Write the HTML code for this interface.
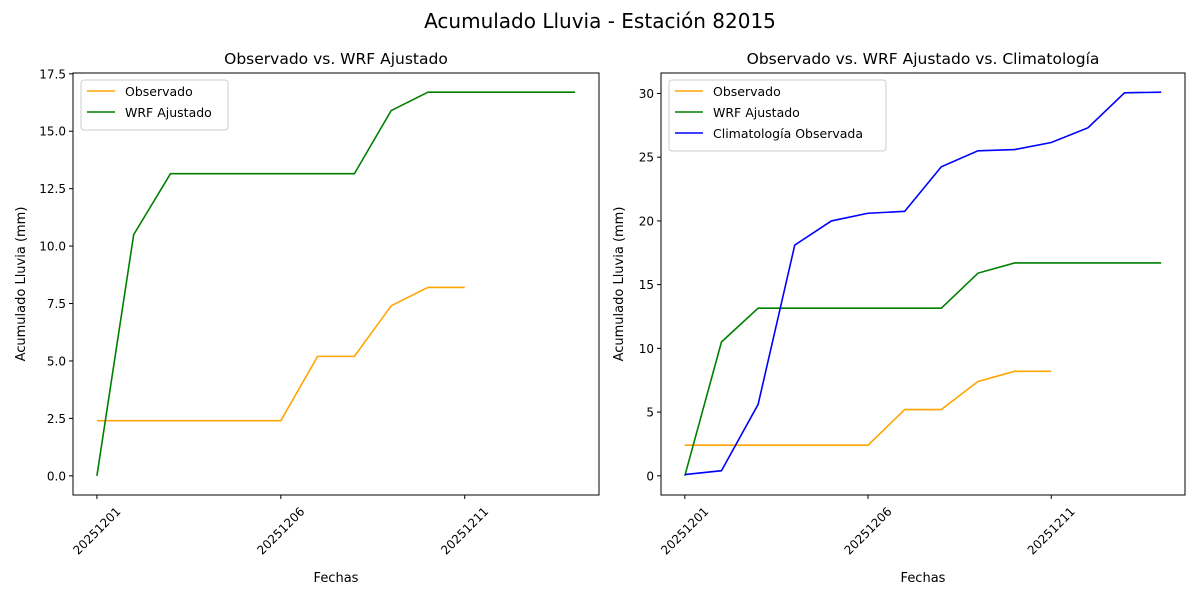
<!DOCTYPE html>
<html><head><meta charset="utf-8">
<style>
body{margin:0;background:#fff;font-family:"Liberation Sans","DejaVu Sans",sans-serif;}
svg text{font-family:"DejaVu Sans","Liberation Sans",sans-serif;}
</style></head>
<body>
<svg id="chart" width="1200" height="600" xmlns="http://www.w3.org/2000/svg">
<text x="600" y="28" text-anchor="middle" font-size="20">Acumulado Lluvia - Estación 82015</text>
</svg>
<script>
const days = [0,1,2,3,4,5,6,7,8,9,10,11,12,13];
const observado = [2.4,2.4,2.4,2.4,2.4,2.4,5.2,5.2,7.4,8.2,8.2];
const wrf = [0,10.5,13.15,13.15,13.15,13.15,13.15,13.15,15.9,16.7,16.7,16.7,16.7,16.7];
const clim = [0.1,0.4,5.6,18.1,20.0,20.6,20.75,24.25,25.5,25.6,26.15,27.3,30.05,30.1];
const xTickDays = [0,5,10];
const xTickLabels = ["20251201","20251206","20251211"];
const leftYTicks = [0,2.5,5,7.5,10,12.5,15,17.5];
const rightYTicks = [0,5,10,15,20,25,30];

const NS="http://www.w3.org/2000/svg";
const svg=document.getElementById('chart');
function mk(tag,attrs,parent){const e=document.createElementNS(NS,tag);for(const k in attrs)e.setAttribute(k,attrs[k]);(parent||svg).appendChild(e);return e;}

function panel(box,title,yTicks,yFmt,series,legend,pname){
  const g=mk('g',{});
  
  
  const xmin=-0.65,xmax=13.65;
  let all=[];series.forEach(s=>all=all.concat(s.vals));
  const lo=Math.min(...all),hi=Math.max(...all),m=(hi-lo)*0.05;
  const ymin=lo-m,ymax=hi+m;
  const X=d=>box.x+(d-xmin)/(xmax-xmin)*box.w;
  const Y=v=>box.y+box.h-(v-ymin)/(ymax-ymin)*box.h;
  const t=mk('text',{x:box.x+box.w/2,y:box.y-9,'text-anchor':'middle','font-size':15.5},g);t.textContent=title;
  
  
  series.forEach(s=>{
    const p=mk('polyline',{points:s.vals.map((v,i)=>X(days[i])+','+Y(v)).join(' '),fill:'none',stroke:s.color,'stroke-width':1.6},g);
    
    
  });
  const r=mk('rect',{x:box.x,y:box.y,width:box.w,height:box.h,fill:'none',stroke:'#000','stroke-width':1},g);
  
  
  yTicks.forEach(v=>{
    const y=Y(v);
    mk('line',{x1:box.x-4,x2:box.x,y1:y,y2:y,stroke:'#000'},g);
    const tx=mk('text',{x:box.x-7,y:y+4.5,'text-anchor':'end','font-size':12},g);tx.textContent=yFmt(v);
    
    
  });
  xTickDays.forEach((d,i)=>{
    const x=X(d),y=box.y+box.h;
    mk('line',{x1:x,x2:x,y1:y,y2:y+4,stroke:'#000'},g);
    const tx=mk('text',{x:0,y:4,'text-anchor':'middle','font-size':12,transform:`translate(${x} ${y+36}) rotate(-45)`},g);tx.textContent=xTickLabels[i];
    
    
  });
  const xl=mk('text',{x:box.x+box.w/2,y:582,'text-anchor':'middle','font-size':13},g);xl.textContent='Fechas';
  
  
  const yx=box.x-(pname==='left-panel'?48:38),yy=box.y+box.h/2;
  const yl=mk('text',{x:yx,y:yy,'text-anchor':'middle','font-size':13,transform:`rotate(-90 ${yx} ${yy})`},g);yl.textContent='Acumulado Lluvia (mm)';
  
  
  const lw=legend.w,lh=8+series.length*21;
  const lg=mk('g',{},g);
  
  
  mk('rect',{x:box.x+8,y:box.y+7,width:lw,height:lh,fill:'#fff',stroke:'#ccc',rx:3},lg);
  series.forEach((s,i)=>{
    const yy2=box.y+18+i*21;
    mk('line',{x1:box.x+14,x2:box.x+42,y1:yy2,y2:yy2,stroke:s.color,'stroke-width':1.6},lg);
    const lt=mk('text',{x:box.x+52,y:yy2+5,'font-size':12.5},lg);lt.textContent=s.label;
    
    
  });
}
const f1=v=>v.toFixed(1), f0=v=>String(v);
panel({x:73,y:73,w:526,h:422},'Observado vs. WRF Ajustado',leftYTicks,f1,
 [{vals:observado,color:'orange',label:'Observado',name:'observado-line'},
  {vals:wrf,color:'green',label:'WRF Ajustado',name:'wrf-line'}],{w:147},'left-panel');
panel({x:661,y:73,w:524,h:422},'Observado vs. WRF Ajustado vs. Climatología',rightYTicks,f0,
 [{vals:observado,color:'orange',label:'Observado',name:'observado-line'},
  {vals:wrf,color:'green',label:'WRF Ajustado',name:'wrf-line'},
  {vals:clim,color:'blue',label:'Climatología Observada',name:'climatologia-line'}],{w:217},'right-panel');
</script>
</body></html>
